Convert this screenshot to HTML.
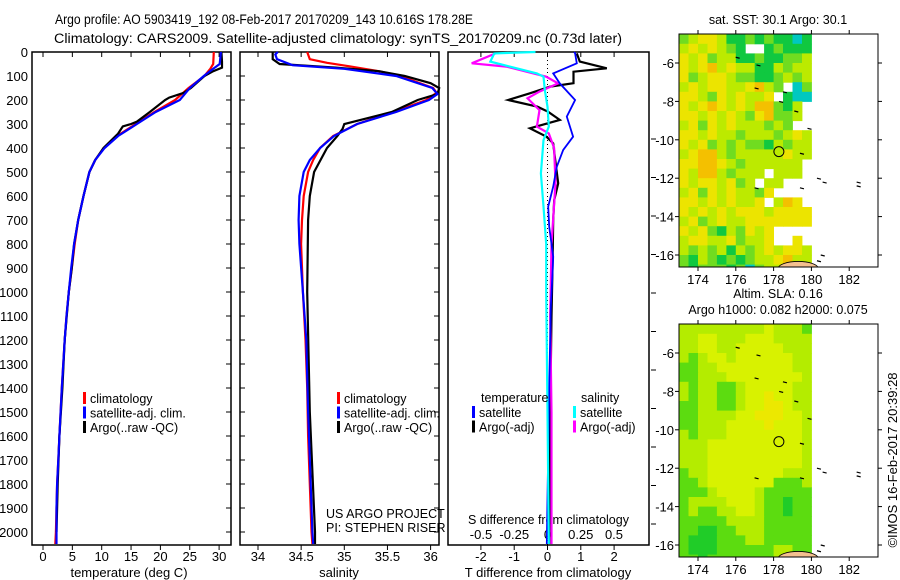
<!DOCTYPE html>
<html><head><meta charset="utf-8">
<style>
html,body{margin:0;padding:0;background:#fff;}
svg{display:block;font-family:"Liberation Sans",sans-serif;}
text{fill:#000;}
</style></head>
<body>
<svg id="chart" width="900" height="580" viewBox="0 0 900 580" xmlns="http://www.w3.org/2000/svg">
<text x="55" y="24" font-size="13.5" textLength="418" lengthAdjust="spacingAndGlyphs">Argo profile: AO 5903419_192 08-Feb-2017 20170209_143 10.616S 178.28E</text>
<text x="54" y="43" font-size="13.5" textLength="568" lengthAdjust="spacingAndGlyphs">Climatology: CARS2009. Satellite-adjusted climatology: synTS_20170209.nc (0.73d later)</text>
<g id="g1"></g>
<g id="g2"></g>
<g id="g3"></g>
<g id="g4"></g>
<g id="g5"></g>
<text transform="translate(897,460) rotate(-90)" text-anchor="middle" font-size="13">©IMOS 16-Feb-2017 20:39:28</text>
</svg>
<script>
// ---------- data ----------
const depthTicks=[0,100,200,300,400,500,600,700,800,900,1000,1100,1200,1300,1400,1500,1600,1700,1800,1900,2000];
const tempTicks=[0,5,10,15,20,25,30];
const salTicks=[34,34.5,35,35.5,36];
const salTickLabels=["34","34.5","35","35.5","36"];
const tdiffTicks=[-2,-1,0,1,2];
const sdiffTicks=[-0.5,-0.25,0,0.25,0.5];
const sdiffTickLabels=["-0.5","-0.25","0","0.25","0.5"];

const tClimDepth=[0,50,70,100,150,200,250,300,350,400,450,500,600,700,800,900,1000,1100,1200,1400,1500,1600,1700,1800,1900,2000,2050];
const tClim=[29.1,29.0,28.5,27.5,24.8,22.5,19.0,15.8,12.6,10.4,8.9,7.9,6.9,6.0,5.4,4.9,4.4,4.0,3.7,3.2,3.0,2.8,2.6,2.4,2.3,2.2,2.1];
const tSatDepth=[0,50,70,100,150,200,250,300,350,400,450,500,600,700,800,900,1000,1100,1200,1400,1500,1600,1700,1800,1900,2000,2050];
const tSat=[30.3,30.1,29.0,27.4,25.0,23.3,19.2,16.0,12.8,10.5,8.9,7.9,6.9,6.0,5.3,4.8,4.4,4.0,3.7,3.2,3.0,2.8,2.6,2.4,2.3,2.3,2.3];
const tArgoDepth=[0,40,65,80,100,150,170,190,200,250,290,300,310,340,400,450,500,600,700,800,900,1000,1200,1400,1600,1800,2000];
const tArgo=[30.4,30.5,30.5,29.0,27.5,25.2,24.0,21.5,20.8,18.2,16.0,15.0,13.6,12.8,10.3,8.9,7.9,6.9,6.0,5.3,4.9,4.4,3.7,3.3,2.8,2.5,2.3];

const sClimDepth=[0,30,45,60,80,100,150,170,200,250,300,350,400,450,500,600,700,800,1000,1200,1400,1600,1800,2000,2050];
const sClim=[34.57,34.6,34.8,35.07,35.4,35.65,36.03,36.07,35.95,35.57,35.15,34.87,34.72,34.64,34.58,34.53,34.51,34.5,34.52,34.55,34.57,34.58,34.6,34.62,34.63];
const sSatDepth=[0,10,30,55,70,100,150,175,200,250,300,350,400,450,500,600,700,800,1000,1200,1500,2000,2050];
const sSat=[34.23,34.2,34.22,34.4,35.0,35.6,36.02,36.08,35.98,35.6,35.15,34.88,34.72,34.6,34.53,34.48,34.47,34.48,34.52,34.56,34.58,34.63,34.64];
const sArgoDepth=[0,30,50,65,80,100,130,150,175,200,250,300,320,350,400,500,600,700,1000,1500,2000,2050];
const sArgo=[34.17,34.17,34.25,34.9,35.4,35.7,36.0,36.1,36.08,35.85,35.55,35.0,34.98,34.92,34.8,34.65,34.6,34.58,34.57,34.6,34.66,34.66];

const dTSatDepth=[0,6,47,89,131,200,269,353,408,478,561,644,728,853,922,1061,1400,2050];
const dTSat=[0.8,0.83,0.88,0.17,0.37,0.83,0.58,0.77,0.47,0.28,0.17,0.02,0.05,0.17,0.15,0.1,0.05,-0.02];
const dTArgoDepth=[6,40,68,82,130,144,172,200,228,249,283,318,353,381,436,547,617,700,900,1100,1500,2050];
const dTArgo=[0.88,0.97,1.78,0.78,0.78,0.08,-0.53,-1.18,-0.3,0.02,0.37,-0.53,-0.03,0.17,0.22,0.32,0.2,0.17,0.15,0.12,0.08,0.05];
const dSSatDepth=[0,6,40,89,103,158,228,311,367,506,644,800,1000,1500,2050];
const dSSat=[-0.09,-0.4,-0.43,-0.08,-0.03,-0.02,0.0,0.01,-0.03,-0.05,-0.03,-0.01,-0.01,0.0,0.01];
const dSArgoDepth=[6,47,61,103,131,165,193,242,311,339,400,547,800,1100,1500,2050];
const dSArgo=[-0.39,-0.57,-0.31,-0.01,0.08,-0.06,-0.15,-0.06,-0.08,0.01,0.05,0.06,0.03,0.02,0.03,0.03];

const mapLonTicks=[174,176,178,180,182];
const mapLatTicks=[-6,-8,-10,-12,-14,-16];
const sstRows=["GLYYLDDGDGDDCD","LYLYLGDWWDGDDD","YLYGLLDDGDDGGL","YLYOLYLLDDLGLL","YGLYYLGGDDGLGL","LYLYYLLYOLGWCG","YYLGYLYLLYWDCC","YLYOYLYLOOGDLW","YYLYLYLGYOGGLW","LYGYLYLLLGLGWW","YYLYLLGLLLGLYL","YLYGLGLGGDLGLL","LYOOLGLLLLLYLL","YYOOYLGLLLLLLW","YLOOLGLLLWLLLW","YLYYLYGLWLLWWW","LYGYLYLLGYWWWW","YYLYLYLLYWLOYW","YLYLYLYYYLYYYY","LYGLYLLYYYYYYY","YLYGDLGYLYWWWW","LYYLLYGLLYWWYW","LGLGLDLGLYLYYL","GDLGDGDGLLYOLL","GDGGGDGCGLLOLY"];
const slaRows=["LLLLLLLLLYLLLG","LLYYLLLYYYLLLL","LLYYLLYYYYYLLL","LGLYYLYYYYYYLL","GGLLYYYYYYYYLL","GGLLLYYYYYYYYL","LGLLGGLYYYYYLL","LGLLGGLYYOYYLL","GGLLGGLYYOOYLL","GGLLLLYYOOOYYL","GGLLLYYYYOYYYL","LGLLLYYYYYYYYL","LLLYYYYYYYYYYL","LLLYYYYYYYYYYL","LLLYYYYYYYYYYL","GLLYYYYYYYYLLL","GGLYYYYYYYGGGL","GGGLYYYYLGGGGG","GLLLLYYYLGGDGG","GLGGLLYYLGGDGG","GGGGGLLLLGGGGG","GGDDGGLLLGGGGG","GDDDGGGLLGGGGG","GDDDGGGGGGLLGG","GGDGGGGGGGLLGG"];
const argoLon=178.28, argoLat=-10.616;

// ---------- helpers ----------
const NS="http://www.w3.org/2000/svg";
function mk(parent,tag,attrs,txt){const e=document.createElementNS(NS,tag);for(const k in attrs)e.setAttribute(k,attrs[k]);if(txt!==undefined)e.textContent=txt;parent.appendChild(e);return e;}
const yD=d=>52+d*0.24;
const PT=52, PB=545;

function frame(g,x0,x1){
  const r=mk(g,'rect',{x:x0,y:PT,width:x1-x0,height:PB-PT,fill:'none',stroke:'#000','stroke-width':1.5});
  
  
}
function line(g,xs,ds,fx,color,name,w){
  const pts=xs.map((v,i)=>fx(v).toFixed(1)+','+yD(ds[i]).toFixed(1)).join(' ');
  const p=mk(g,'polyline',{points:pts,fill:'none',stroke:color,'stroke-width':w||2.2,'stroke-linejoin':'miter'});
  
  
}
function depthTickMarks(g,x0,x1){
  depthTicks.forEach(d=>{
    mk(g,'line',{x1:x1-5,x2:x1,y1:yD(d),y2:yD(d),stroke:'#000'});
  });
}
function legend(g,x,y0,items){
  items.forEach((it,i)=>{
    const y=y0+i*14.5;
    const b=mk(g,'rect',{x:x,y:y-11,width:3,height:12,fill:it[0]});
    
    
    const t=mk(g,'text',{x:x+7,y:y,'font-size':12.5},it[1]);
    
    
  });
}

// ---------- panel 1: temperature ----------
{
  const g=document.getElementById('g1');
  const fx=t=>43+t*5.87;
  frame(g,32,231);
  depthTickMarks(g,32,231);
  depthTicks.forEach(d=>{
    const t=mk(g,'text',{x:28,y:yD(d)+5,'text-anchor':'end','font-size':13},String(d));
    
    
  });
  tempTicks.forEach(v=>{
    mk(g,'line',{x1:fx(v),x2:fx(v),y1:PB,y2:PB+5,stroke:'#000'});
    mk(g,'line',{x1:fx(v),x2:fx(v),y1:PT,y2:PT+5,stroke:'#000'});
    const t=mk(g,'text',{x:fx(v),y:561,'text-anchor':'middle','font-size':13},String(v));
    
    
  });
  const xl=mk(g,'text',{x:129,y:577,'text-anchor':'middle','font-size':13},'temperature (deg C)');
  
  
  line(g,tClim,tClimDepth,fx,'#f00','climatology-line');
  line(g,tArgo,tArgoDepth,fx,'#000','argo-line');
  line(g,tSat,tSatDepth,fx,'#00f','satellite-line');
  legend(g,83,403,[['#f00','climatology'],['#00f','satellite-adj. clim.'],['#000','Argo(..raw -QC)']]);
}
// ---------- panel 2: salinity ----------
{
  const g=document.getElementById('g2');
  const fx=s=>258+(s-34)*86.3;
  frame(g,240,439);
  depthTickMarks(g,240,439);
  depthTicks.forEach(d=>mk(g,'line',{x1:240,x2:245,y1:yD(d),y2:yD(d),stroke:'#000'}));
  salTicks.forEach((v,i)=>{
    mk(g,'line',{x1:fx(v),x2:fx(v),y1:PB,y2:PB+5,stroke:'#000'});
    mk(g,'line',{x1:fx(v),x2:fx(v),y1:PT,y2:PT+5,stroke:'#000'});
    const t=mk(g,'text',{x:fx(v),y:561,'text-anchor':'middle','font-size':13},salTickLabels[i]);
    
    
  });
  const xl=mk(g,'text',{x:339,y:577,'text-anchor':'middle','font-size':13},'salinity');
  
  
  line(g,sClim,sClimDepth,fx,'#f00','climatology-line');
  line(g,sArgo,sArgoDepth,fx,'#000','argo-line');
  line(g,sSat,sSatDepth,fx,'#00f','satellite-line');
  legend(g,337,403,[['#f00','climatology'],['#00f','satellite-adj. clim.'],['#000','Argo(..raw -QC)']]);
  const a=mk(g,'text',{x:326,y:518,'font-size':12.5},'US ARGO PROJECT');
  
  
  const b=mk(g,'text',{x:326,y:532,'font-size':12.5},'PI: STEPHEN RISER');
  
  
}
// ---------- panel 3: differences ----------
{
  const g=document.getElementById('g3');
  const fT=t=>547.5+t*33.3;
  const fS=s=>547.5+s*133;
  frame(g,448,649);
  mk(g,'line',{x1:547.5,x2:547.5,y1:PT,y2:PB,stroke:'#000','stroke-dasharray':'1 3'});
  for(let y=139;y<=546;y+=38.5)mk(g,'line',{x1:651,x2:656,y1:y,y2:y,stroke:'#000'});
  tdiffTicks.forEach(v=>{
    mk(g,'line',{x1:fT(v),x2:fT(v),y1:PB,y2:PB+5,stroke:'#000'});
    mk(g,'line',{x1:fT(v),x2:fT(v),y1:PT,y2:PT+5,stroke:'#000'});
    const t=mk(g,'text',{x:fT(v),y:561,'text-anchor':'middle','font-size':13},String(v));
    
    
  });
  sdiffTicks.forEach((v,i)=>{
    const t=mk(g,'text',{x:fS(v),y:539,'text-anchor':'middle','font-size':13},sdiffTickLabels[i]);
    
    
  });
  const s=mk(g,'text',{x:468,y:524,'font-size':12.5},'S difference from climatology');
  
  
  const xl=mk(g,'text',{x:548,y:577,'text-anchor':'middle','font-size':13},'T difference from climatology');
  
  
  line(g,dTArgo,dTArgoDepth,fT,'#000','t-argo-diff-line');
  line(g,dSArgo,dSArgoDepth,fS,'#f0f','s-argo-diff-line');
  line(g,dTSat,dTSatDepth,fT,'#00f','t-satellite-diff-line',1.8);
  line(g,dSSat,dSSatDepth,fS,'#0ff','s-satellite-diff-line');
  const h1=mk(g,'text',{x:481,y:402,'font-size':12.5},'temperature');
  
  
  const h2=mk(g,'text',{x:581,y:402,'font-size':12.5},'salinity');
  
  
  legend(g,472,417,[['#00f','satellite'],['#000','Argo(-adj)']]);
  legend(g,573,417,[['#0ff','satellite'],['#f0f','Argo(-adj)']]);
}
// ---------- maps ----------
function drawMap(g,top,rows,pal,titleLines){
  const X0=679,X1=878,bot=top+233;
  const fLon=l=>698+(l-174)*18.9;
  const fLat=l=>top+29+(-6-l)*19.2;
  const clip=mk(g,'clipPath',{id:'c'+top});
  mk(clip,'rect',{x:X0,y:top,width:X1-X0,height:bot-top});
  const cg=mk(g,'g',{'clip-path':'url(#c'+top+')'});
  const lat0=-4.5;
  rows.forEach((row,r)=>{
    for(let c=0;c<row.length;c++){
      const ch=row[c]; if(ch==='W')continue;
      const lon=173+c*0.5, la=lat0-r*0.5;
      const x=fLon(lon), y=fLat(la);
      const cell=mk(cg,'rect',{x:x.toFixed(1),y:y.toFixed(1),width:9.9,height:10.1,fill:pal[ch]});
      
      
    }
  });
  mk(cg,'ellipse',{cx:fLon(179.3),cy:fLat(-16.7),rx:20,ry:7,fill:'#f4c090',stroke:'#000','stroke-width':0.8});
  [[176.1,-5.7],[177.2,-6.1],[177.1,-7.3],[178.6,-7.5],[178.4,-8.0],[179.2,-8.5],[179.9,-9.4],[179.5,-10.7],[177.1,-12.5],[179.5,-12.5],[180.4,-12.0],[180.7,-12.2],[182.5,-12.4],[182.5,-12.2],[180.6,-16.0],[180.4,-16.3]].forEach(p=>{
    mk(cg,'line',{x1:fLon(p[0])-2,x2:fLon(p[0])+2,y1:fLat(p[1]),y2:fLat(p[1])+1,stroke:'#000','stroke-width':1.2});
  });
  const circ=mk(g,'circle',{cx:fLon(argoLon),cy:fLat(argoLat),r:5,fill:'none',stroke:'#000','stroke-width':1});
  
  
  const fr=mk(g,'rect',{x:X0,y:top,width:X1-X0,height:bot-top,fill:'none',stroke:'#000','stroke-width':1});
  
  
  mapLonTicks.forEach(l=>{
    const x=fLon(l);
    mk(g,'line',{x1:x,x2:x,y1:bot,y2:bot+4,stroke:'#000'});
    mk(g,'line',{x1:x,x2:x,y1:top-4,y2:top,stroke:'#000'});
    const t=mk(g,'text',{x:x,y:bot+17,'text-anchor':'middle','font-size':13},String(l));
    
    
  });
  mapLatTicks.forEach(l=>{
    const y=fLat(l);
    mk(g,'line',{x1:X0-4,x2:X0,y1:y,y2:y,stroke:'#000'});
    mk(g,'line',{x1:X1,x2:X1+4,y1:y,y2:y,stroke:'#000'});
    const t=mk(g,'text',{x:674,y:y+5,'text-anchor':'end','font-size':13},String(l));
    
    
  });
  titleLines.forEach((s,i)=>{
    const t=mk(g,'text',{x:778,y:(titleLines.length===1?top-10:top-26+i*16),'text-anchor':'middle','font-size':12.5},s);
    
    
  });
}
drawMap(document.getElementById('g4'),34,sstRows,{Y:'#ece400',L:'#bcea00',G:'#70dc20',D:'#10c840',O:'#f4c000',C:'#00c8c0'},['sat. SST: 30.1 Argo: 30.1']);
drawMap(document.getElementById('g5'),324,slaRows,{Y:'#d8f200',L:'#b4ec00',O:'#ece800',G:'#5cdc10',D:'#20cc28'},['Altim. SLA: 0.16','Argo h1000: 0.082 h2000: 0.075']);
</script>
</body></html>
